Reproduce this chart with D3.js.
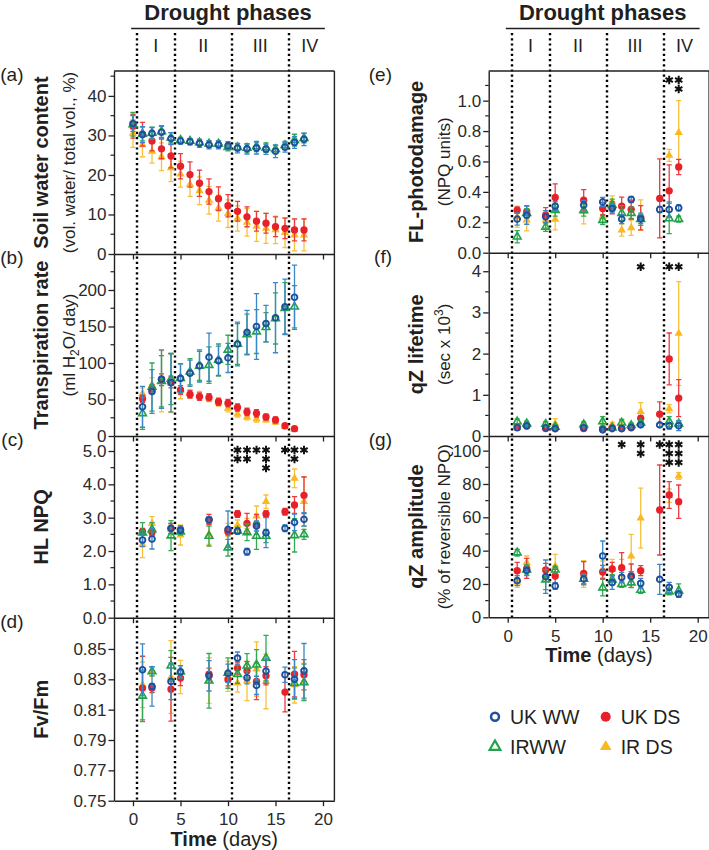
<!DOCTYPE html>
<html><head><meta charset="utf-8">
<script src="https://cdn.jsdelivr.net/npm/d3@7"></script>
<style>body{margin:0;background:#fff}svg{display:block;font-family:"Liberation Sans",Arial,sans-serif}</style>
</head><body><svg id="c" width="709" height="850"></svg>
<script>
// ---------------- DATA ----------------
const seriesNames = ['UK WW', 'UK DS', 'IRWW', 'IR DS'];
const phaseNames = ['I', 'II', 'III', 'IV'];
const phaseEdges = [0.4, 4.4, 10.4, 16.4];
const xTicks = [0, 5, 10, 15, 20];

// (a) Soil water content
const aDays = [0,1,2,3,4,5,6,7,8,9,10,11,12,13,14,15,16,17,18];
const aUKWW    = [33.0,30.2,30.5,30.8,29.2,28.6,28.4,28.0,27.6,27.6,27.4,26.8,26.6,26.8,26.5,26.0,27.0,28.2,29.0];
const aUKWWerr = [2.0,2.0,1.5,1.5,1.5,0.8,0.8,1.0,1.0,1.0,1.0,1.2,1.3,1.5,1.3,1.6,1.2,1.5,1.6];
const aIRWW    = [32.8,30.4,30.6,31.0,29.4,28.8,28.6,28.2,27.9,27.9,27.0,27.0,26.8,27.2,26.9,26.5,27.5,28.8,29.3];
const aIRWWerr = [3.0,1.8,1.5,1.5,1.3,0.7,0.6,0.8,0.8,0.8,0.9,0.9,1.0,1.3,1.2,1.0,1.0,1.5,1.2];
const aUKDS    = [32.3,30.3,28.6,26.6,24.8,22.2,20.1,17.9,15.8,14.0,12.2,10.8,9.4,8.3,7.8,6.9,6.5,6.1,6.1];
const aUKDSerr = [3.0,3.0,2.5,2.5,3.0,3.2,3.2,3.3,3.2,3.0,2.8,2.5,2.5,2.5,2.5,2.5,2.6,2.8,2.8];
const aIRDS    = [30.5,27.6,26.0,24.6,21.8,20.2,17.6,16.0,13.6,11.6,10.2,9.0,8.0,7.0,6.5,6.1,5.4,4.8,4.8];
const aIRDSerr = [3.5,3.0,3.0,3.5,3.5,3.3,3.0,3.5,3.5,3.3,3.5,3.2,3.5,3.8,3.8,3.5,3.8,4.0,4.0];
const aTicks = [0,10,20,30,40];

// (b) Transpiration rate
const bDays = [1,2,3,4,5,6,7,8,9,10,11,12,13,14,15,16,17];
const bUKWW    = [40,61,78,73,79,86,96,108,103,107,126,142,150,154,162,177,190];
const bUKWWerr = [28,30,40,40,20,18,22,33,20,20,30,30,45,25,48,38,44];
const bIRWW    = [31,67,75,78,79,88,96,97,104,118,126,139,143,149,161,175,177];
const bIRWWerr = [22,33,35,35,20,18,20,25,22,20,28,28,30,20,35,35,29];
const bUKDS    = [51,64,77,74,63,57,54,53,47,45,39,33,31,26,22,14,10];
const bUKDSerr = [5,6,8,8,6,5,5,5,5,5,5,5,5,4,4,3,2];
const bIRDS    = [58,70,75,72,63,58,56,52,46,38,30,26,23,22,19,13,9];
const bIRDSerr = [8,10,42,40,12,6,5,5,5,5,4,4,4,3,3,3,2];
const bTicks = [0,50,100,150,200];

// measurement days for (c)-(g)
const measDays = [1,2,4,5,8,10,11,12,13,14,16,17,18];

// (c) HL NPQ
const cUKWW    = [2.33,2.36,2.68,2.62,2.93,2.65,2.60,1.98,2.75,2.55,2.68,2.86,2.95];
const cUKWWerr = [0.20,0.30,0.15,0.10,0.10,0.55,0.10,0.10,0.15,0.45,0.10,0.25,0.20];
const cIRWW    = [2.55,2.65,2.46,2.58,2.45,2.10,2.60,2.56,2.45,2.45,null,2.47,2.50];
const cIRWWerr = [0.30,0.20,0.45,0.10,0.30,0.25,0.10,0.25,0.40,0.20,null,0.50,0.15];
const cUKDS    = [2.58,2.56,2.68,2.65,2.95,2.58,3.11,2.83,2.80,3.11,3.18,3.38,3.67];
const cUKDSerr = [0.10,0.10,0.15,0.10,0.15,0.10,0.10,0.30,0.30,0.10,0.10,0.25,0.55];
const cIRDS    = [2.20,2.83,2.65,2.48,2.50,2.63,2.78,2.83,3.05,3.48,null,4.18,3.48];
const cIRDSerr = [0.40,0.20,0.15,0.30,0.30,0.20,0.15,0.15,0.30,0.20,null,0.28,0.75];
const cTicks = [0,1,2,3,4,5];
const cStarDays = [11,12,13,14,16,17,18];
const cStarCounts = [2,2,1,3,1,2,1];

// (d) Fv/Fm
const dUKWW    = [0.8363,0.8253,0.8286,0.8350,0.8323,0.8340,0.8440,0.8310,0.8260,0.8354,0.8330,0.8300,0.8356];
const dUKWWerr = [0.017,0.013,0.012,0.004,0.010,0.006,0.004,0.004,0.006,0.008,0.005,0.013,0.018];
const dIRWW    = [0.8191,0.8352,0.8389,0.8350,0.8290,0.8341,0.8334,0.8389,0.8396,0.8440,null,0.8275,0.8280];
const dIRWWerr = [0.017,0.003,0.010,0.004,0.018,0.010,0.006,0.008,0.010,0.015,null,0.010,0.012];
const dUKDS    = [0.8242,0.8242,0.8235,0.8308,0.8334,0.8297,0.8374,0.8356,0.8286,0.8323,0.8216,0.8334,0.8330];
const dUKDSerr = [0.021,0.003,0.021,0.005,0.004,0.004,0.004,0.006,0.012,0.006,0.013,0.015,0.010];
const dIRDS    = [0.8264,0.8350,0.8315,0.8315,0.8292,0.8320,0.8275,0.8290,0.8367,0.8286,null,0.8264,0.8286];
const dIRDSerr = [0.015,0.003,0.024,0.011,0.015,0.010,0.006,0.013,0.018,0.018,null,0.012,0.012];
const dTicks = [0.75,0.77,0.79,0.81,0.83,0.85];

// (e) FL-photodamage
const eUKWW    = [0.221,0.247,0.236,0.306,0.313,0.334,0.291,0.221,0.350,0.221,0.284,0.284,0.295];
const eUKWWerr = [0.04,0.06,0.04,0.03,0.03,0.03,0.03,0.03,0.02,0.03,0.02,0.05,0.02];
const eIRWW    = [0.105,0.260,0.170,0.280,0.280,0.214,0.313,0.260,0.260,0.220,null,0.225,0.221];
const eIRWWerr = [0.04,0.03,0.03,0.04,0.04,0.03,0.04,0.05,0.04,0.04,null,0.10,0.02];
const eUKDS    = [0.280,0.270,0.247,0.363,0.345,0.291,0.295,0.306,0.285,0.230,0.357,0.407,0.564];
const eUKDSerr = [0.02,0.04,0.05,0.09,0.07,0.04,0.04,0.06,0.06,0.08,0.26,0.17,0.05];
const eIRDS    = [0.236,0.214,0.214,0.220,0.270,0.236,0.334,0.149,0.164,0.247,null,0.640,0.790];
const eIRDSerr = [0.07,0.07,0.05,0.07,0.08,0.04,0.04,0.04,0.05,0.10,null,0.04,0.21];
const eTicks = [0,0.2,0.4,0.6,0.8,1.0];
const eStarDays = [17,18];
const eStarCounts = [1,2];

// (f) qZ lifetime
const fUKWW    = [0.20,0.25,0.20,0.18,0.20,0.15,0.18,0.18,0.21,0.27,0.27,0.25,0.25];
const fUKWWerr = [0.05,0.05,0.05,0.04,0.04,0.05,0.04,0.04,0.04,0.04,0.04,0.08,0.12];
const fIRWW    = [0.35,0.30,0.29,0.22,0.28,0.35,0.20,0.32,0.26,0.32,null,0.35,0.30];
const fIRWWerr = [0.06,0.06,0.06,0.05,0.06,0.12,0.05,0.08,0.05,0.05,null,0.12,0.06];
const fUKDS    = [0.23,0.24,0.18,0.18,0.18,0.18,0.20,0.18,0.20,0.43,0.53,1.87,0.92];
const fUKDSerr = [0.04,0.04,0.03,0.03,0.03,0.03,0.03,0.03,0.03,0.07,0.30,0.63,0.45];
const fIRDS    = [0.20,0.26,0.22,0.30,0.24,0.25,0.27,0.26,0.24,0.59,null,0.66,2.49];
const fIRDSerr = [0.06,0.08,0.06,0.12,0.06,0.10,0.06,0.12,0.06,0.22,null,0.10,1.26];
const fTicks = [0,1,2,3,4];
const fStarDays = [14,17,18];
const fStarCounts = [1,1,1];

// (g) qZ amplitude
const gUKWW    = [22.0,28.0,24.4,18.8,23.0,36.8,20.8,24.0,24.4,20.4,22.8,18.0,14.0];
const gUKWWerr = [3,3,10,2,3,9,4,3,3,3,9,3,2];
const gIRWW    = [38.8,28.5,22.6,28.5,23.0,17.8,22.6,19.9,20.8,16.4,null,15.4,16.0];
const gIRWWerr = [2,3,6,2,3,5,3,2,3,2,null,2,4];
const gUKDS    = [28.0,29.4,28.4,24.8,26.4,27.2,29.0,29.8,25.0,28.0,64.4,73.4,69.4];
const gUKDSerr = [5,6,4,4,7,4,4,9,7,3,27,8,10];
const gIRDS    = [21.0,32.8,25.5,30.8,26.0,28.8,28.8,29.8,36.8,59.5,null,73.0,84.8];
const gIRDSerr = [3,4,3,7,8,5,6,5,13,18,null,4,2];
const gTicks = [0,20,40,60,80,100];
const gStarDays = [12,14,16,17,18];
const gStarCounts = [1,2,1,3,3];

// ---------------- STYLE / LAYOUT ----------------
const FONT = '"Liberation Sans", Arial, sans-serif';
const INK = '#231f20';
const styles = {
  'UK WW': {sym: d3.symbolCircle, size: 26, fill: 'none', stroke: '#1d4f9c', sw: 1.9, err: '#3a86c8'},
  'UK DS': {sym: d3.symbolCircle, size: 42, fill: '#e8202a', stroke: 'none', sw: 0, err: '#ea3b3f'},
  'IRWW':  {sym: d3.symbolTriangle, size: 26, fill: 'none', stroke: '#1fa24a', sw: 1.6, err: '#34a853'},
  'IR DS': {sym: d3.symbolTriangle, size: 30, fill: '#fbb81f', stroke: 'none', sw: 0, err: '#f8c13c'}
};
const drawOrder = ['IR DS', 'UK DS', 'IRWW', 'UK WW'];
const cols = {L: {x0: 114, x1: 334.4, bottom: 800.7}, R: {x0: 488.7, x1: 709.1, bottom: 617.3}};
const xDomain = [-2, 21.2];
const svg = d3.select('#c');

const panels = [
  {label:'(a)', col:'L', top:71, bot:254, dom:[0,46.3], ticks:aTicks, minorStep:5, fmt:d3.format('d'), days:aDays,
   vals:{'UK WW':[aUKWW,aUKWWerr],'UK DS':[aUKDS,aUKDSerr],'IRWW':[aIRWW,aIRWWerr],'IR DS':[aIRDS,aIRDSerr]},
   title:['Soil water content','(vol. water/ total vol., %)'], topBorder:true},
  {label:'(b)', col:'L', top:254, bot:436, dom:[0,249.3], ticks:bTicks, minorStep:25, fmt:d3.format('d'), days:bDays,
   vals:{'UK WW':[bUKWW,bUKWWerr],'UK DS':[bUKDS,bUKDSerr],'IRWW':[bIRWW,bIRWWerr],'IR DS':[bIRDS,bIRDSerr]},
   title:['Transpiration rate','h2o']},
  {label:'(c)', col:'L', top:436, bot:617.7, dom:[0,5.45], ticks:cTicks, minorStep:0.5, fmt:d3.format('.1f'), days:measDays,
   vals:{'UK WW':[cUKWW,cUKWWerr],'UK DS':[cUKDS,cUKDSerr],'IRWW':[cIRWW,cIRWWerr],'IR DS':[cIRDS,cIRDSerr]},
   title:['HL NPQ'], stars:[cStarDays,cStarCounts], starOff:14},
  {label:'(d)', col:'L', top:617.7, bot:800.7, dom:[0.75,0.8706], ticks:dTicks, minorStep:0, fmt:d3.format('.2f'), days:measDays,
   vals:{'UK WW':[dUKWW,dUKWWerr],'UK DS':[dUKDS,dUKDSerr],'IRWW':[dIRWW,dIRWWerr],'IR DS':[dIRDS,dIRDSerr]},
   title:['Fv/Fm'], xlabels:true},
  {label:'(e)', col:'R', top:71, bot:252.7, dom:[0,1.195], ticks:eTicks, minorStep:0.1, fmt:d3.format('.1f'), days:measDays,
   vals:{'UK WW':[eUKWW,eUKWWerr],'UK DS':[eUKDS,eUKDSerr],'IRWW':[eIRWW,eIRWWerr],'IR DS':[eIRDS,eIRDSerr]},
   title:['FL-photodamage','(NPQ units)'], stars:[eStarDays,eStarCounts], starOff:9, topBorder:true},
  {label:'(f)', col:'R', top:252.7, bot:436, dom:[0,4.45], ticks:fTicks, minorStep:0.5, fmt:d3.format('d'), days:measDays,
   vals:{'UK WW':[fUKWW,fUKWWerr],'UK DS':[fUKDS,fUKDSerr],'IRWW':[fIRWW,fIRWWerr],'IR DS':[fIRDS,fIRDSerr]},
   title:['qZ lifetime','sec'], stars:[fStarDays,fStarCounts], starOff:14},
  {label:'(g)', col:'R', top:436, bot:617.3, dom:[0,108.8], ticks:gTicks, minorStep:10, fmt:d3.format('d'), days:measDays,
   vals:{'UK WW':[gUKWW,gUKWWerr],'UK DS':[gUKDS,gUKDSerr],'IRWW':[gIRWW,gIRWWerr],'IR DS':[gIRDS,gIRDSerr]},
   title:['qZ amplitude','(% of reversible NPQ)'], stars:[gStarDays,gStarCounts], starOff:8.5, xlabels:true}
];

function xScale(c){ return d3.scaleLinear().domain(xDomain).range([cols[c].x0, cols[c].x1]); }

// ---------- headers & phase lines ----------
['L','R'].forEach(c => {
  const x = xScale(c);
  const hx0 = x(-0.2), hx1 = x(20.2);
  svg.append('text').attr('x', (hx0+hx1)/2).attr('y', 20).attr('text-anchor','middle')
    .attr('font-size', 22).attr('font-weight','bold').attr('fill', INK).text('Drought phases');
  svg.append('line').attr('x1', hx0).attr('x2', hx1).attr('y1', 28.5).attr('y2', 28.5)
    .attr('stroke', INK).attr('stroke-width', 1.6);
  const ends = phaseEdges.concat([20.8]);
  phaseNames.forEach((n,i) => {
    svg.append('text').attr('x', x((ends[i]+ends[i+1])/2)).attr('y', 51.5).attr('text-anchor','middle')
      .attr('font-size', 18).attr('fill', INK).text(n);
  });
  svg.append('g').selectAll('line').data(phaseEdges).join('line')
    .attr('x1', d=>Math.round(x(d))).attr('x2', d=>Math.round(x(d))).attr('y1', 33).attr('y2', cols[c].bottom)
    .attr('stroke', '#000').attr('stroke-width', 2.4).attr('stroke-dasharray', '2.2,3');
});

// ---------- panels ----------
panels.forEach(p => {
  const col = cols[p.col];
  const x = xScale(p.col);
  const y = d3.scaleLinear().domain(p.dom).range([p.bot, p.top]);
  const g = svg.append('g');

  // minor y ticks
  if (p.minorStep) {
    const minor = d3.range(p.dom[0], p.dom[1] + 1e-9, p.minorStep).filter(v => !p.ticks.some(t => Math.abs(t - v) < 1e-9));
    g.append('g').selectAll('line').data(minor).join('line')
      .attr('x1', col.x0 - 3.5).attr('x2', col.x0).attr('y1', d=>y(d)).attr('y2', d=>y(d))
      .attr('stroke', INK).attr('stroke-width', 1.2);
  }
  // y axis
  const ya = g.append('g').attr('transform', `translate(${col.x0},0)`)
    .call(d3.axisLeft(y).tickValues(p.ticks).tickFormat(p.fmt).tickSize(5.5).tickSizeOuter(0).tickPadding(2));
  ya.select('.domain').attr('stroke', INK).attr('stroke-width', 1.4);
  ya.selectAll('.tick line').attr('stroke', INK).attr('stroke-width', 1.3);
  ya.selectAll('.tick text').attr('font-size', 17).attr('font-family', FONT).attr('fill', '#2a2a2a');

  // x axis
  const xa = g.append('g').attr('transform', `translate(0,${p.bot})`)
    .call(d3.axisBottom(x).tickValues(xTicks).tickSize(5.5).tickSizeOuter(0).tickPadding(7)
      .tickFormat(p.xlabels ? d3.format('d') : ''));
  xa.select('.domain').attr('stroke', INK).attr('stroke-width', 1.4);
  xa.selectAll('.tick line').attr('stroke', INK).attr('stroke-width', 1.3);
  xa.selectAll('.tick text').attr('font-size', 17).attr('font-family', FONT).attr('fill', '#2a2a2a');

  // frame
  g.append('line').attr('x1', col.x1).attr('x2', col.x1).attr('y1', p.top).attr('y2', p.bot)
    .attr('stroke', INK).attr('stroke-width', 1.4);
  if (p.topBorder) g.append('line').attr('x1', col.x0).attr('x2', col.x1).attr('y1', p.top).attr('y2', p.top)
    .attr('stroke', INK).attr('stroke-width', 1.4);

  // data
  drawOrder.forEach(s => {
    const st = styles[s];
    const [vals, errs] = p.vals[s];
    const pts = p.days.map((d,i) => ({d, v: vals[i], e: errs[i]})).filter(o => o.v != null);
    g.append('g').selectAll('path').data(pts).join('path')
      .attr('d', o => {
        const xx = x(o.d), lo = y(o.v - o.e), hi = y(o.v + o.e);
        return `M${xx},${lo}V${hi}M${xx-2.6},${lo}h5.2M${xx-2.6},${hi}h5.2`;
      })
      .attr('fill', 'none').attr('stroke', st.err).attr('stroke-width', 1.3);
    g.append('g').selectAll('path').data(pts).join('path')
      .attr('d', d3.symbol().type(st.sym).size(st.size))
      .attr('transform', o => `translate(${x(o.d)},${y(o.v)})`)
      .attr('fill', st.fill).attr('stroke', st.stroke).attr('stroke-width', st.sw);
  });

  // significance asterisks (stacked marks per day)
  if (p.stars) {
    const [sd, sc] = p.stars;
    const items = [];
    sd.forEach((d,i) => { for (let k = 0; k < sc[i]; k++) items.push({d, k}); });
    g.append('g').selectAll('path').data(items).join('path')
      .attr('d', d3.symbol().type(d3.symbolAsterisk).size(50))
      .attr('transform', o => `translate(${x(o.d)},${p.top + p.starOff + o.k * 9})`)
      .attr('fill', 'none').attr('stroke', '#111').attr('stroke-width', 2);
  }

  // panel label
  svg.append('text').attr('x', p.col === 'L' ? 23.5 : 392).attr('y', p.top + 10)
    .attr('text-anchor','end').attr('font-size', 19).attr('fill', INK).text(p.label);

  // y titles
  const cy = (p.top + p.bot) / 2;
  const bx = col.x0 - 66, rx = col.x0 - 39;
  svg.append('text').attr('transform', `translate(${bx},${cy}) rotate(-90)`).attr('text-anchor','middle')
    .attr('font-size', 20).attr('font-weight','bold').attr('fill', INK).text(p.title[0]);
  if (p.title.length > 1) {
    const t = svg.append('text').attr('transform', `translate(${rx},${cy}) rotate(-90)`).attr('text-anchor','middle')
      .attr('font-size', 17).attr('fill', INK);
    if (p.title[1] === 'h2o') {
      t.append('tspan').text('(ml H');
      t.append('tspan').attr('font-size', 12).attr('dy', 4).text('2');
      t.append('tspan').attr('dy', -4).text('O/ day)');
    } else if (p.title[1] === 'sec') {
      t.append('tspan').text('(sec x 10');
      t.append('tspan').attr('font-size', 12).attr('dy', -7).text('3');
      t.append('tspan').attr('dy', 7).text(')');
    } else t.text(p.title[1]);
  }

  // x title
  if (p.xlabels) {
    const t = svg.append('text').attr('x', (col.x0 + col.x1)/2).attr('y', p.bot + 45).attr('text-anchor','middle')
      .attr('font-size', 20).attr('fill', INK);
    t.append('tspan').attr('font-weight','bold').text('Time');
    t.append('tspan').text(' (days)');
  }
});

// ---------- legend ----------
const legendPos = {'UK WW':[495,716.7], 'UK DS':[605.7,716.7], 'IRWW':[495,746.7], 'IR DS':[605.7,746.7]};
const lg = svg.append('g');
seriesNames.forEach(s => {
  const st = styles[s], [lx, ly] = legendPos[s];
  lg.append('path').attr('d', d3.symbol().type(st.sym).size(st.size * 1.9))
    .attr('transform', `translate(${lx},${ly})`)
    .attr('fill', st.fill).attr('stroke', st.stroke).attr('stroke-width', st.sw ? st.sw + 0.6 : 0);
  lg.append('text').attr('x', lx + 15).attr('y', ly + 7).attr('font-size', 19.5).attr('fill', INK).text(s);
});
</script>
</body></html>
